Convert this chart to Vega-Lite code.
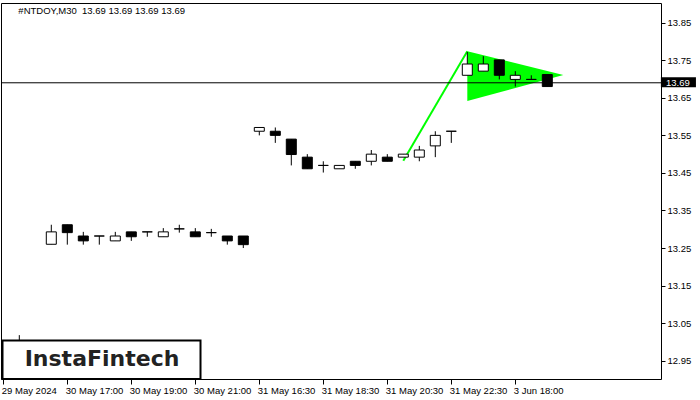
{
  "$schema": "https://vega.github.io/schema/vega-lite/v6.json",
  "width": 660,
  "height": 376,
  "padding": {"left": 1, "top": 3, "right": 39, "bottom": 21},
  "autosize": {"type": "none"},
  "background": "white",
  "config": {
    "view": {"stroke": "black", "strokeWidth": 1},
    "axis": {"grid": false, "domain": false, "tickColor": "black", "labelColor": "black", "labelFont": "Liberation Sans", "labelFontSize": 9.5}
  },
  "datasets": {
    "candles": [
      {"i": 1, "o": 12.99, "h": 13.018, "l": 12.96, "c": 12.98},
      {"i": 3, "o": 13.26, "h": 13.312, "l": 13.26, "c": 13.293},
      {"i": 4, "o": 13.312, "h": 13.312, "l": 13.259, "c": 13.291},
      {"i": 5, "o": 13.282, "h": 13.293, "l": 13.259, "c": 13.269},
      {"i": 6, "o": 13.282, "h": 13.282, "l": 13.259, "c": 13.282},
      {"i": 7, "o": 13.269, "h": 13.293, "l": 13.269, "c": 13.282},
      {"i": 8, "o": 13.293, "h": 13.293, "l": 13.269, "c": 13.28},
      {"i": 9, "o": 13.293, "h": 13.293, "l": 13.28, "c": 13.293},
      {"i": 10, "o": 13.28, "h": 13.303, "l": 13.28, "c": 13.293},
      {"i": 11, "o": 13.301, "h": 13.312, "l": 13.291, "c": 13.301},
      {"i": 12, "o": 13.293, "h": 13.303, "l": 13.28, "c": 13.28},
      {"i": 13, "o": 13.291, "h": 13.301, "l": 13.28, "c": 13.291},
      {"i": 14, "o": 13.282, "h": 13.282, "l": 13.259, "c": 13.269},
      {"i": 15, "o": 13.282, "h": 13.282, "l": 13.25, "c": 13.259},
      {"i": 16, "o": 13.561, "h": 13.571, "l": 13.55, "c": 13.571},
      {"i": 17, "o": 13.561, "h": 13.571, "l": 13.53, "c": 13.55},
      {"i": 18, "o": 13.54, "h": 13.54, "l": 13.47, "c": 13.499},
      {"i": 19, "o": 13.492, "h": 13.5, "l": 13.461, "c": 13.461},
      {"i": 20, "o": 13.47, "h": 13.481, "l": 13.451, "c": 13.47},
      {"i": 21, "o": 13.461, "h": 13.47, "l": 13.461, "c": 13.47},
      {"i": 22, "o": 13.481, "h": 13.481, "l": 13.461, "c": 13.47},
      {"i": 23, "o": 13.481, "h": 13.511, "l": 13.47, "c": 13.5},
      {"i": 24, "o": 13.492, "h": 13.5, "l": 13.481, "c": 13.481},
      {"i": 25, "o": 13.492, "h": 13.5, "l": 13.492, "c": 13.5},
      {"i": 26, "o": 13.492, "h": 13.522, "l": 13.481, "c": 13.511},
      {"i": 27, "o": 13.522, "h": 13.561, "l": 13.492, "c": 13.55},
      {"i": 28, "o": 13.561, "h": 13.561, "l": 13.53, "c": 13.561},
      {"i": 29, "o": 13.71, "h": 13.772, "l": 13.71, "c": 13.74},
      {"i": 30, "o": 13.721, "h": 13.761, "l": 13.721, "c": 13.74},
      {"i": 31, "o": 13.751, "h": 13.751, "l": 13.699, "c": 13.71},
      {"i": 32, "o": 13.699, "h": 13.721, "l": 13.68, "c": 13.71},
      {"i": 33, "o": 13.699, "h": 13.71, "l": 13.699, "c": 13.699},
      {"i": 34, "o": 13.712, "h": 13.712, "l": 13.68, "c": 13.68}
    ],
    "pennant": [
      {"i": 29, "top": 13.7738, "bot": 13.6415},
      {"i": 35, "top": 13.7107, "bot": 13.7107}
    ],
    "pole": [
      {"i": 25, "p": 13.4825},
      {"i": 29, "p": 13.7738}
    ],
    "one": [{}]
  },
  "layer": [
    {
      "data": {"name": "pennant"},
      "mark": {"type": "area", "color": "#00ff00", "opacity": 1},
      "encoding": {
        "x": {"field": "i", "type": "quantitative", "scale": {"domain": [-0.144, 41.106], "nice": false, "zero": false, "padding": 0},
          "axis": {"orient": "bottom", "values": [0, 4, 8, 12, 16, 20, 24, 28, 32], "labelExpr": "['29 May 2024','30 May 17:00','30 May 19:00','30 May 21:00','31 May 16:30','31 May 18:30','31 May 20:30','31 May 22:30','3 Jun 18:00'][round(datum.value/4)]", "labelAlign": "left", "labelOffset": -2, "labelPadding": 1, "tickSize": 5, "labelFlush": false, "labelOverlap": false, "title": null}},
        "y": {"field": "top", "type": "quantitative", "scale": {"domain": [12.9012, 13.9025], "nice": false, "zero": false, "padding": 0},
          "axis": {"orient": "right", "values": [12.95, 13.05, 13.15, 13.25, 13.35, 13.45, 13.55, 13.65, 13.75, 13.85], "format": ".2f", "tickSize": 4, "labelPadding": 2, "labelBaseline": "middle", "labelFlush": false, "labelOverlap": false, "title": null}},
        "y2": {"field": "bot"}
      }
    },
    {
      "data": {"name": "pole"},
      "mark": {"type": "line", "color": "#00ff00", "strokeWidth": 2},
      "encoding": {
        "x": {"field": "i", "type": "quantitative", "scale": {"domain": [-0.144, 41.106], "nice": false, "zero": false, "padding": 0}},
        "y": {"field": "p", "type": "quantitative", "scale": {"domain": [12.9012, 13.9025], "nice": false, "zero": false, "padding": 0}}
      }
    },
    {
      "data": {"name": "one"},
      "mark": {"type": "rule", "color": "black", "strokeWidth": 1},
      "encoding": {
        "y": {"datum": 13.69, "type": "quantitative", "scale": {"domain": [12.9012, 13.9025], "nice": false, "zero": false, "padding": 0}}
      }
    },
    {
      "data": {"name": "candles"},
      "mark": {"type": "rule", "color": "black", "strokeWidth": 1},
      "encoding": {
        "x": {"field": "i", "type": "quantitative", "scale": {"domain": [-0.144, 41.106], "nice": false, "zero": false, "padding": 0}},
        "y": {"field": "l", "type": "quantitative", "scale": {"domain": [12.9012, 13.9025], "nice": false, "zero": false, "padding": 0}},
        "y2": {"field": "h"}
      }
    },
    {
      "data": {"name": "candles"},
      "mark": {"type": "bar", "size": 10, "stroke": "black", "strokeWidth": 1},
      "encoding": {
        "x": {"field": "i", "type": "quantitative", "scale": {"domain": [-0.144, 41.106], "nice": false, "zero": false, "padding": 0}},
        "y": {"field": "o", "type": "quantitative", "scale": {"domain": [12.9012, 13.9025], "nice": false, "zero": false, "padding": 0}},
        "y2": {"field": "c"},
        "fill": {"condition": {"test": "datum.c < datum.o", "value": "black"}, "value": "white"}
      }
    },
    {
      "data": {"name": "one"},
      "mark": {"type": "rect", "fill": "white", "stroke": "black", "strokeWidth": 2},
      "encoding": {
        "x": {"datum": -0.05, "type": "quantitative"},
        "x2": {"datum": 12.325},
        "y": {"datum": 12.9012, "type": "quantitative"},
        "y2": {"datum": 13.0037}
      }
    },
    {
      "data": {"name": "one"},
      "mark": {"type": "text", "font": "DejaVu Sans", "fontSize": 22, "fontWeight": "bold", "color": "#222222", "align": "center", "baseline": "middle"},
      "encoding": {
        "x": {"datum": 6.17, "type": "quantitative"},
        "y": {"datum": 12.9544, "type": "quantitative"},
        "text": {"value": "InstaFintech"}
      }
    },
    {
      "data": {"name": "one"},
      "mark": {"type": "text", "font": "Liberation Sans", "fontSize": 9.5, "color": "black", "align": "left", "baseline": "middle"},
      "encoding": {
        "x": {"datum": 0.94, "type": "quantitative"},
        "y": {"datum": 13.8812, "type": "quantitative"},
        "text": {"value": "#NTDOY,M30 \u00a013.69 13.69 13.69 13.69"}
      }
    },
    {
      "data": {"name": "one"},
      "mark": {"type": "rect", "fill": "black"},
      "encoding": {
        "x": {"datum": 41.1, "type": "quantitative"},
        "x2": {"datum": 43.29},
        "y": {"datum": 13.7046, "type": "quantitative"},
        "y2": {"datum": 13.678}
      }
    },
    {
      "data": {"name": "one"},
      "mark": {"type": "text", "font": "Liberation Sans", "fontSize": 9.5, "color": "white", "align": "left", "baseline": "middle"},
      "encoding": {
        "x": {"datum": 41.42, "type": "quantitative"},
        "y": {"datum": 13.69, "type": "quantitative"},
        "text": {"value": "13.69"}
      }
    }
  ]
}
